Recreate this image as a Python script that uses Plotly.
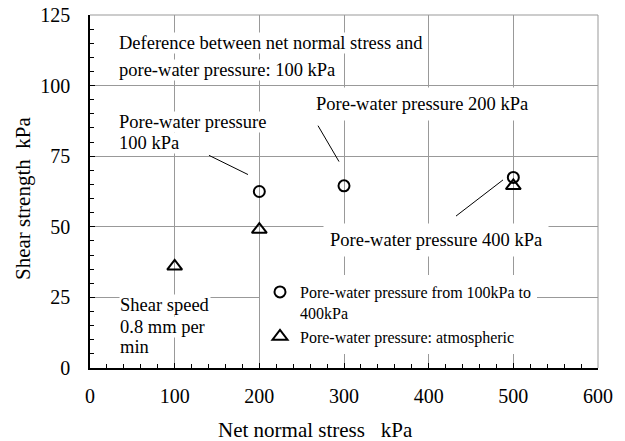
import plotly.graph_objects as go

# ---- data ----
circle_x = [200, 300, 500]
circle_y = [62.5, 64.5, 67.5]
tri_x = [100, 200, 500]
tri_y = [36, 49, 64.5]

series_names = ["Pore-water pressure from 100kPa to<br>400kPa",
                "Pore-water pressure: atmospheric"]

x_ticks = [0, 100, 200, 300, 400, 500, 600]
y_ticks = [0, 25, 50, 75, 100, 125]

x_title = "Net normal stress   kPa"
y_title = "Shear strength  kPa"

# text notes, one line each: text, left x, centre y (data units), padding
notes_text = ["Deference between net normal stress and",
              "pore-water pressure: 100 kPa",
              "Pore-water pressure",
              "100 kPa",
              "Pore-water pressure 200 kPa",
              "Pore-water pressure 400 kPa",
              "Shear speed",
              "0.8 mm per",
              "min"]
notes_x = [33, 33, 33, 33, 259, 275, 34, 34, 34]
notes_y = [115.1, 105.5, 87.1, 79.7, 93.5, 45.3, 22.2, 14.4, 7.3]
notes_pad = [0, 0, 0, 0, 6, 6, 0, 0, 0]

# leader lines from notes to points
leader_x0 = [140.5, 269.3, 487.8]
leader_y0 = [75.3, 85.8, 66.6]
leader_x1 = [186.6, 294.1, 432.3]
leader_y1 = [68.5, 73.1, 53.8]

FONT = "Liberation Serif, Times New Roman, serif"

fig = go.Figure()
fig.add_trace(go.Scatter(
    x=circle_x, y=circle_y, mode="markers", name=series_names[0],
    marker=dict(symbol="circle-open", size=11, color="black",
                line=dict(color="black", width=2))))
fig.add_trace(go.Scatter(
    x=tri_x, y=tri_y, mode="markers", name=series_names[1],
    marker=dict(symbol="triangle-up-open", size=13, color="black",
                line=dict(color="black", width=2))))

for t, x, y, p in zip(notes_text, notes_x, notes_y, notes_pad):
    fig.add_annotation(x=x, y=y, xref="x", yref="y", text=t, showarrow=False,
                       xanchor="left", yanchor="middle", align="left",
                       bgcolor="white", borderpad=p,
                       font=dict(family=FONT, size=18.5, color="black"))

for x0, y0, x1, y1 in zip(leader_x0, leader_y0, leader_x1, leader_y1):
    fig.add_shape(type="line", xref="x", yref="y", x0=x0, y0=y0, x1=x1, y1=y1,
                  line=dict(color="black", width=1))

# top and right grey frame
fig.add_shape(type="line", xref="paper", yref="paper", x0=0, y0=1, x1=1, y1=1,
              line=dict(color="#999999", width=1))
fig.add_shape(type="line", xref="paper", yref="paper", x0=1, y0=0, x1=1, y1=1,
              line=dict(color="#999999", width=1))

# axis titles
fig.add_annotation(x=(315 - 90) / 508, y=-(430 - 368) / 353, xref="paper", yref="paper",
                   text=x_title, showarrow=False, xanchor="center", yanchor="middle",
                   font=dict(family=FONT, size=21, color="black"))
fig.add_annotation(x=-(90 - 23) / 508, y=(368 - 199) / 353, xref="paper", yref="paper",
                   text=y_title, showarrow=False, textangle=-90,
                   xanchor="center", yanchor="middle",
                   font=dict(family=FONT, size=21, color="black"))

fig.update_xaxes(range=[0, 600], tickvals=x_ticks, ticktext=[str(v) for v in x_ticks],
                 showgrid=True, gridcolor="#999999", gridwidth=1,
                 showline=True, linecolor="black", linewidth=1.5,
                 ticks="inside", ticklen=5, tickcolor="black", tickwidth=1,
                 ticklabelstandoff=9, zeroline=False, automargin=False,
                 tickfont=dict(family=FONT, size=20, color="black"),
                 minor=dict(dtick=20, ticks="inside", ticklen=4, tickcolor="black",
                            showgrid=False))
fig.update_yaxes(range=[0, 125], tickvals=y_ticks, ticktext=[str(v) for v in y_ticks],
                 showgrid=True, gridcolor="#999999", gridwidth=1,
                 showline=True, linecolor="black", linewidth=1.5,
                 ticks="inside", ticklen=5, tickcolor="black", tickwidth=1,
                 ticklabelstandoff=14, zeroline=False, automargin=False,
                 tickfont=dict(family=FONT, size=20, color="black"),
                 minor=dict(dtick=5, ticks="inside", ticklen=4, tickcolor="black",
                            showgrid=False))

fig.update_layout(
    width=625, height=441,
    margin=dict(l=90, r=27, t=15, b=73, autoexpand=False),
    plot_bgcolor="white", paper_bgcolor="white",
    font=dict(family=FONT, color="black"),
    showlegend=True,
    legend=dict(x=(260 - 90) / 508, y=(368 - 275) / 353, xanchor="left", yanchor="top",
                bgcolor="white", valign="top",
                font=dict(family=FONT, size=16, color="black"),
                tracegroupgap=0, itemsizing="trace"),
)

# remove the browser's default page margin so the figure sits at the top-left corner
fig.write_html("out.html", config={"displayModeBar": False},
               post_script="document.body.style.margin='0';")
